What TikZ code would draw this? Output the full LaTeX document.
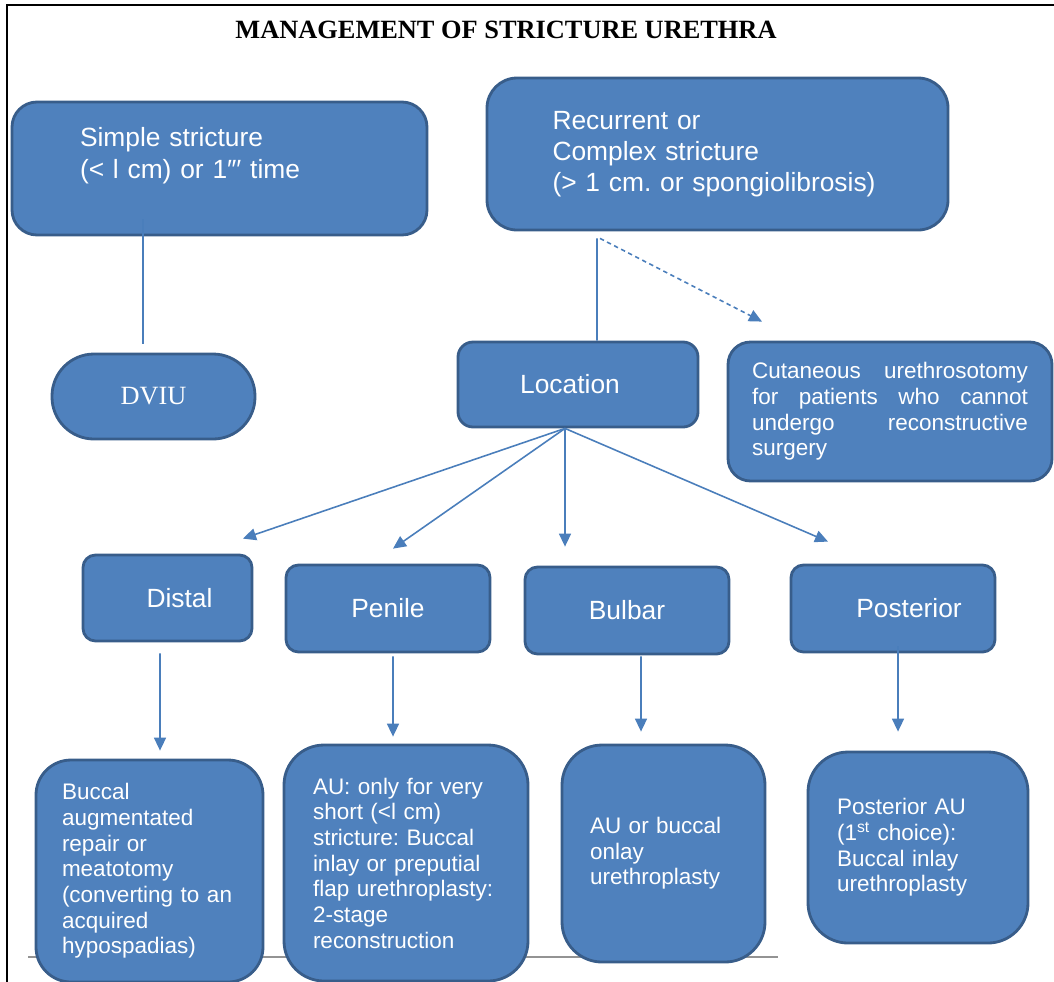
\documentclass[tikz,border=0pt]{standalone}
\usepackage{fontspec}
\setmainfont{Liberation Sans}
\newfontfamily\TimesFont{Liberation Serif}
\usepackage{tikz}
\usetikzlibrary{calc}
\usetikzlibrary{arrows.meta}
\usetikzlibrary{positioning}
\definecolor{boxfill}{HTML}{4F81BD}
\definecolor{boxline}{HTML}{385D8A}
\definecolor{linkcol}{HTML}{4A7EBB}
\newcommand{\BigTxt}{\fontsize{15}{17.8}\selectfont}
\newcommand{\SmallTxt}{\fontsize{12.8}{14.6}\selectfont}
\frenchspacing

\begin{document}
\begin{tikzpicture}[
MyBox/.style={draw=boxline,fill=boxfill,line width=1.6pt,text=white,inner sep=0pt},
BigBox/.style={MyBox,font=\BigTxt},
SmallBox/.style={MyBox,font=\SmallTxt,align=left},
MyLink/.style={draw=linkcol,line width=0.9pt},
MyArrow/.style={MyLink,-{Triangle[length=2.6mm,width=2.4mm]}},
MyDashArrow/.style={MyArrow,dash pattern=on 2.5pt off 2pt}
]
\useasboundingbox (0,0) rectangle (21.08,-19.62);
\clip (0,0) rectangle (21.08,-19.62);

% page frame and the rule behind the last row
\draw[black,line width=0.8pt] (0.14,-19.7) -- (0.14,-0.1) -- (21.2,-0.1);
\coordinate (RuleL) at (0.56,-19.14);
\coordinate (RuleR) at (15.56,-19.14);
\draw[gray!85,line width=1.4pt] (RuleL) -- (RuleR);

\node[font=\TimesFont\BigTxt\bfseries] (Title) at (10.12,-0.6) {MANAGEMENT OF STRICTURE URETHRA};

% first level
\node[BigBox,rounded corners=0.5cm,minimum width=8.3cm,minimum height=2.66cm,
      text width=5.58cm,align=left] (Simple) at (4.39,-3.37)
      {Simple stricture\\(< l cm) or 1\symbol{"2033}\symbol{"2032} time\\ \mbox{}};
\node[BigBox,rounded corners=0.6cm,minimum width=9.22cm,minimum height=3.04cm,
      text width=6.6cm,align=left] (Recurrent) at (14.35,-3.08)
      {Recurrent or\\Complex stricture\\(> 1 cm. or spongiolibrosis)};

% second level
\node[BigBox,rounded corners=0.84cm,minimum width=4.06cm,minimum height=1.7cm,
      font=\TimesFont\BigTxt] (DVIU) at (3.07,-7.93) {DVIU};
\node[BigBox,rounded corners=0.3cm,minimum width=4.8cm,minimum height=1.7cm]
      (Location) at (11.56,-7.69) {Location\hspace*{0.32cm}};
\node[SmallBox,rounded corners=0.45cm,minimum width=6.48cm,minimum height=2.78cm,
      text width=5.52cm] (Cutaneous) at (17.8,-8.23)
      {Cutaneous\hfill urethrosotomy\\for\hfill patients\hfill who\hfill cannot\\undergo\hfill reconstructive\\surgery};

% sites
\node[BigBox,rounded corners=0.25cm,minimum width=3.38cm,minimum height=1.72cm]
      (Distal) at (3.35,-11.96) {\hspace*{0.48cm}Distal};
\node[BigBox,rounded corners=0.25cm,minimum width=4.08cm,minimum height=1.74cm]
      (Penile) at (7.76,-12.17) {Penile};
\node[BigBox,rounded corners=0.25cm,minimum width=4.08cm,minimum height=1.74cm]
      (Bulbar) at (12.54,-12.21) {Bulbar};
\node[BigBox,rounded corners=0.25cm,minimum width=4.08cm,minimum height=1.74cm]
      (Posterior) at (17.86,-12.17) {\hspace*{0.64cm}Posterior};

% treatments
\node[SmallBox,rounded corners=0.7cm,minimum width=4.54cm,minimum height=4.44cm,
      text width=3.5cm] (DistalRx) at (2.99,-17.42)
      {Buccal\\augmentated\\repair or\\meatotomy\\(converting to an\\acquired\\hypospadias)};
\node[SmallBox,rounded corners=0.8cm,minimum width=4.88cm,minimum height=4.72cm,
      text width=3.72cm] (PenileRx) at (8.12,-17.26)
      {AU: only for very\\short (<l cm)\\stricture: Buccal\\inlay or preputial\\flap urethroplasty:\\2-stage\\reconstruction};
\node[SmallBox,rounded corners=0.8cm,minimum width=4.06cm,minimum height=4.34cm,
      text width=2.94cm] (BulbarRx) at (13.27,-17.07)
      {AU or buccal\\onlay\\urethroplasty};
\node[SmallBox,rounded corners=0.8cm,minimum width=4.4cm,minimum height=3.82cm,
      text width=3.24cm] (PosteriorRx) at (18.36,-16.95)
      {Posterior AU\\(1\textsuperscript{st} choice):\\Buccal inlay\\urethroplasty};

% connectors
\draw[MyLink] ($(Simple.south)+(-1.53,0.34)$) -- ($(DVIU.north)+(-0.21,0.18)$);
\draw[MyLink] ($(Recurrent.south)+(-2.41,-0.14)$) -- ($(Location.north)+(0.38,0)$);
\draw[MyDashArrow] ($(Recurrent.south)+(-2.35,-0.14)$) -- ($(Cutaneous.north)+(-2.56,0.38)$);

\coordinate (Fan) at ($(Location.south)+(-0.26,0)$);
\draw[MyArrow] (Fan) -- ($(Distal.north)+(1.51,0.3)$);
\draw[MyArrow] (Fan) -- ($(Penile.north)+(0.10,0.3)$);
\draw[MyArrow] (Fan) -- ($(Bulbar.north)+(-1.24,0.38)$);
\draw[MyArrow] (Fan) -- ($(Posterior.north)+(-1.30,0.44)$);

\draw[MyArrow] ($(Distal.south)+(-0.15,-0.22)$) -- ($(DistalRx.north)+(0.21,0.16)$);
\draw[MyArrow] ($(Penile.south)+(0.10,-0.06)$) -- ($(PenileRx.north)+(-0.26,0.14)$);
\draw[MyArrow] ($(Bulbar.south)+(0.28,-0.02)$) -- ($(BulbarRx.north)+(-0.45,0.24)$);
\draw[MyArrow] ($(Posterior.south)+(0.10,0.14)$) -- ($(PosteriorRx.north)+(-0.40,0.38)$);

\end{tikzpicture}
\end{document}
